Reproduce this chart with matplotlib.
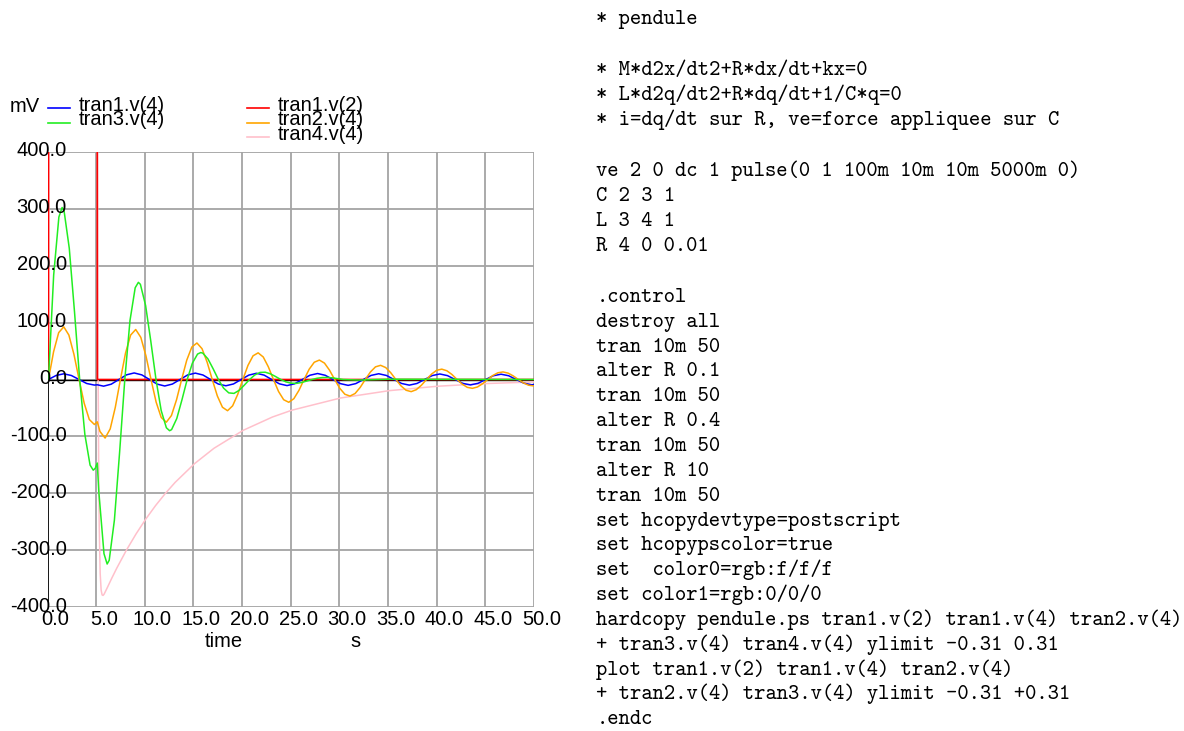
import matplotlib
matplotlib.use("Agg")
import matplotlib.pyplot as plt
from matplotlib.lines import Line2D

# ---- data (time in s, voltage in mV) ----
t_v2 = [0, 0.1, 0.11, 5.11, 5.12, 50]
v_v2 = [0, 0, 1000, 1000, 0, 0]

t_tran1 = [0, 0.1, 0.885, 1.671, 2.456, 3.242, 4.027, 4.812, 5.115,
           5.767, 6.552, 7.338, 8.123, 8.908, 9.694, 10.479, 11.265, 12.050,
           12.835, 13.621, 14.406, 15.192, 15.977, 16.762, 17.548, 18.333,
           19.119, 19.904, 20.689, 21.475, 22.260, 23.046, 23.831, 24.616,
           25.402, 26.187, 26.973, 27.758, 28.543, 29.329, 30.114, 30.900,
           31.685, 32.470, 33.256, 34.041, 34.827, 35.612, 36.397, 37.183,
           37.968, 38.754, 39.539, 40.324, 41.110, 41.895, 42.681, 43.466,
           44.251, 45.037, 45.822, 46.608, 47.393, 48.178, 48.964, 49.749, 50.0]
v_tran1 = [0, 0, 7.1, 10.0, 7.0, 0, -7.0, -9.8, -9.3,
           -11.7, -8.2, 0, 8.2, 11.5, 8.1, 0, -8.1, -11.4,
           -8.0, 0, 8.0, 11.2, 7.9, 0, -7.9, -11.0,
           -7.8, 0, 7.7, 10.9, 7.7, 0, -7.6, -10.7,
           -7.5, 0, 7.5, 10.5, 7.4, 0, -7.3, -10.3,
           -7.2, 0, 7.2, 10.1, 7.1, 0, -7.0, -9.9,
           -7.0, 0, 6.9, 9.7, 6.8, 0, -6.8, -9.5,
           -6.7, 0, 6.6, 9.3, 6.6, 0, -6.5, -9.2, -8.9]

t_tran2 = [0, 0.1, 0.624, 1.149, 1.673, 2.197, 2.722, 3.246, 3.770, 4.294,
           4.819, 5.115,
           5.396, 5.920, 6.445, 6.969, 7.493, 8.018, 8.542, 9.066, 9.590,
           10.115, 10.639, 11.163, 11.688, 12.212, 12.736, 13.261, 13.785,
           14.309, 14.833, 15.358, 15.882, 16.406, 16.931, 17.455, 17.979,
           18.504, 19.028, 19.552, 20.076, 20.601, 21.125, 21.649, 22.174,
           22.698, 23.222, 23.747, 24.271, 24.795, 25.319, 25.844, 26.368,
           26.892, 27.417, 27.941, 28.465, 28.990, 29.514, 30.038, 30.562,
           31.087, 31.611, 32.135, 32.660, 33.184, 33.708, 34.233, 34.757,
           35.281, 35.805, 36.330, 36.854, 37.378, 37.903, 38.427, 38.951,
           39.476, 40.000, 40.524, 41.048, 41.573, 42.097, 42.621, 43.146,
           43.670, 44.194, 44.719, 45.243, 45.767, 46.291, 46.816, 47.340,
           47.864, 48.389, 48.913, 49.437, 49.962, 50.0]
v_tran2 = [0, 0, 48.7, 82.3, 92.5, 78.0, 43.9, 0, -41.6, -70.2,
           -79.0, -74.3,
           -91.4, -102.8, -86.7, -48.8,
           0, 46.3, 78.0, 87.8, 74.0, 41.7,
           0, -39.6, -66.7, -75.0, -63.3, -35.6,
           0, 33.8, 57.0, 64.1, 54.1, 30.4,
           0, -28.9, -48.7, -54.8, -46.2, -26.0,
           0, 24.7, 41.6, 46.8, 39.5, 22.2,
           0, -21.1, -35.5, -40.0, -33.7, -19.0,
           0, 18.0, 30.3, 34.1, 28.8, 16.2,
           0, -15.4, -25.9, -29.1, -24.6, -13.9,
           0, 13.1, 22.2, 24.9, 21.0, 11.8,
           0, -11.2, -18.9, -21.3, -17.9, -10.1,
           0, 9.6, 16.2, 18.2, 15.3, 8.7,
           0, -8.2, -13.8, -15.5, -13.1, -7.4,
           0, 7.0, 11.8, 13.3, 11.2, 6.3,
           0, -6.0, -10.0, -11.3, -11.3]

t_tran3 = [0, 0.1, 0.634, 1.169, 1.50, 1.703, 2.238, 2.772, 3.306, 3.841,
           4.375, 4.70, 4.910, 5.115, 5.272, 5.806, 6.13, 6.341, 6.875, 7.409,
           7.944, 8.478, 9.012, 9.34, 9.547, 10.081, 10.615, 11.150, 11.684,
           12.218, 12.55, 12.753, 13.287, 13.821, 14.356, 14.890, 15.424,
           15.75, 15.959, 16.493, 17.027, 17.562, 18.096, 18.630, 19.165,
           19.699, 20.233, 20.768, 21.302, 21.836, 22.371, 22.905, 23.439,
           23.974, 24.508, 25.042, 25.577, 26.111, 26.645, 27.180, 27.714,
           28.248, 28.783, 29.317, 29.851, 30.386, 32.0, 35.0, 50.0]
v_tran3 = [0, 0, 183.3, 285.3, 302.0, 296.1, 230.4, 119.6, 0, -96.6,
           -150.3, -159.2, -155.9, -146.7, -196.5, -305.9, -324.0, -317.4,
           -247.0, -128.2, 0, 103.5, 161.1, 170.6, 167.1, 130.1, 67.5, 0,
           -54.5, -84.8, -89.9, -88.0, -68.5, -35.5, 0, 28.7, 44.7, 47.3,
           46.3, 36.1, 18.7, 0, -15.1, -23.5, -24.4, -19.0, -9.8, 0, 7.9,
           12.4, 12.8, 10.0, 5.2, 0, -4.2, -6.5, -6.8, -5.3, -2.7, 0, 2.2,
           3.4, 3.6, 2.8, 1.4, 0, -1.0, 0.5, 0]

t_tran4 = [0, 0.1, 0.15, 0.2, 0.3, 0.6, 1.0, 2.0, 3.0, 4.0,
           5.115, 5.165, 5.215, 5.265, 5.315, 5.415, 5.515, 5.615, 5.715, 5.815,
           6.115, 6.615, 7.115, 8.115, 9.115, 10.115, 11.115, 12.115, 13.115,
           15.115, 17.115, 20.115, 23.115, 25.115, 30.115, 35.115, 40.115,
           45.115, 50.0]
v_tran4 = [0, 0, 393, 631, 859, 963, 932, 842, 761, 688,
           615, 218.6, -22.2, -168.3, -256.6, -341.1, -370.1, -378.4, -379.1,
           -377.0, -366.6, -348.6, -331.4, -299.5, -270.8, -244.7, -221.2,
           -200.0, -180.7, -147.7, -120.7, -89.2, -65.9, -53.9, -32.5, -19.6,
           -11.8, -7.1, -4.3]

x_ticks = [0, 5, 10, 15, 20, 25, 30, 35, 40, 45, 50]
y_ticks = [-400, -300, -200, -100, 0, 100, 200, 300, 400]

netlist = [
    "* pendule",
    "",
    "* M*d2x/dt2+R*dx/dt+kx=0",
    "* L*d2q/dt2+R*dq/dt+1/C*q=0",
    "* i=dq/dt sur R, ve=force appliquee sur C",
    "",
    "ve 2 0 dc 1 pulse(0 1 100m 10m 10m 5000m 0)",
    "C 2 3 1",
    "L 3 4 1",
    "R 4 0 0.01",
    "",
    ".control",
    "destroy all",
    "tran 10m 50",
    "alter R 0.1",
    "tran 10m 50",
    "alter R 0.4",
    "tran 10m 50",
    "alter R 10",
    "tran 10m 50",
    "set hcopydevtype=postscript",
    "set hcopypscolor=true",
    "set  color0=rgb:f/f/f",
    "set color1=rgb:0/0/0",
    "hardcopy pendule.ps tran1.v(2) tran1.v(4) tran2.v(4)",
    "+ tran3.v(4) tran4.v(4) ylimit -0.31 0.31",
    "plot tran1.v(2) tran1.v(4) tran2.v(4)",
    "+ tran2.v(4) tran3.v(4) ylimit -0.31 +0.31",
    ".endc",
]

# ---- figure ----
W, H = 1184, 731
fig = plt.figure(figsize=(W / 100, H / 100), dpi=100)
fig.patch.set_facecolor("white")


def fx(px):
    return px / W


def fy(py):
    return 1 - py / H


FONT = "Liberation Sans"
FS = 14.5

left, right, top, bottom = 47.5, 534.0, 151.7, 607.3
ax = fig.add_axes([fx(left), fy(bottom), (right - left) / W, (bottom - top) / H])
ax.set_xlim(0, 50)
ax.set_ylim(-400, 400)
ax.set_xticks(x_ticks)
ax.set_yticks(y_ticks)
ax.tick_params(length=0, labelbottom=False, labelleft=False)
for sp in ax.spines.values():
    sp.set_visible(False)
ax.grid(True, color="#a4a4a4", linewidth=1.3, zorder=0)
ax.set_axisbelow(True)
ax.axhline(0, color="black", linewidth=1.0, zorder=1)
ax.axvline(0, color="black", linewidth=1.2, zorder=1)

colors = {"v2": "#ff0000", "tran1": "#0000ff", "tran2": "#ffa500",
          "tran3": "#22ee22", "tran4": "#ffc0cb"}

# pink goes underneath so the pulse edges stay red like the hardcopy
ax.plot(t_tran4, v_tran4, color=colors["tran4"], lw=1.1, zorder=2)
ax.plot(t_v2, v_v2, color=colors["v2"], lw=1.2, zorder=2)
ax.plot(t_tran1, v_tran1, color=colors["tran1"], lw=1.1, zorder=2)
ax.plot(t_tran2, v_tran2, color=colors["tran2"], lw=1.1, zorder=2)
ax.plot(t_tran3, v_tran3, color=colors["tran3"], lw=1.1, zorder=2)

# tick labels, placed the way the ngspice hardcopy does
for v in y_ticks:
    ax.annotate(f"{v:.1f}", xy=(0, v), xytext=(19.4, -4.3),
                textcoords="offset pixels", ha="right", va="baseline",
                fontsize=FS, family=FONT, annotation_clip=False)
for t in x_ticks:
    ax.annotate(f"{t:.1f}", xy=(t, -400), xytext=(7.6, -17.7),
                textcoords="offset pixels", ha="center", va="baseline",
                fontsize=FS, family=FONT, annotation_clip=False)

fig.text(fx(224), fy(647), "time", ha="center", va="baseline", fontsize=FS, family=FONT)
fig.text(fx(355), fy(647), "s", ha="center", va="baseline", fontsize=FS, family=FONT)
fig.text(fx(10), fy(111.5), "mV", ha="left", va="baseline", fontsize=FS, family=FONT)

# legend (two columns, rows overlap like the original)
legend = [("tran1.v(4)", colors["tran1"], 48.3, 108.3),
          ("tran3.v(4)", colors["tran3"], 48.3, 122.7),
          ("tran1.v(2)", colors["v2"], 247.3, 108.3),
          ("tran2.v(4)", colors["tran2"], 247.3, 122.7),
          ("tran4.v(4)", colors["tran4"], 247.3, 137.3)]
for label, col, x0, y0 in legend:
    fig.add_artist(Line2D([fx(x0), fx(x0 + 22)], [fy(y0), fy(y0)],
                          transform=fig.transFigure, color=col, lw=1.2))
    fig.text(fx(x0 + 30), fy(y0 + 2.5), label, ha="left", va="baseline",
             fontsize=FS, family=FONT)

# netlist listing on the right
y = 24.0
for line in netlist:
    if line:
        fig.text(fx(596.5), fy(y), line, ha="left", va="baseline",
                 fontsize=15.5, family="cmtt10")
        y += 24.85
    else:
        y += 24.85 + 1.5

fig.savefig("out.png", dpi=100)
